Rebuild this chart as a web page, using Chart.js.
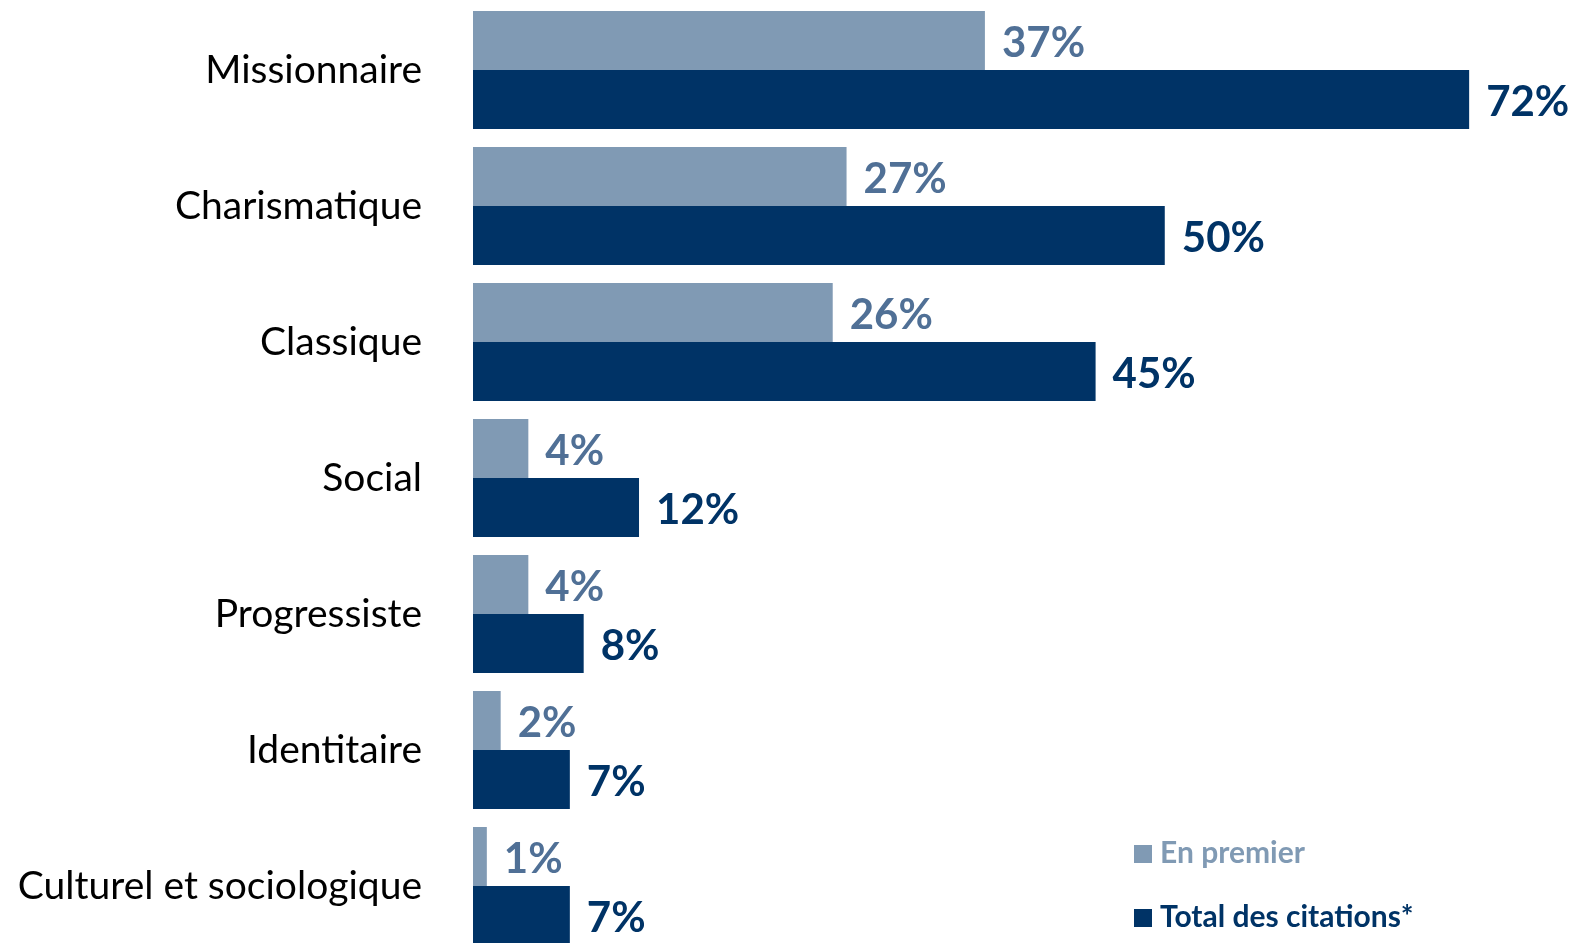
<!DOCTYPE html>
<html>
<head>
<meta charset="utf-8">
<script src="https://cdn.jsdelivr.net/npm/chart.js@4"></script>
<style>
  html, body { margin: 0; padding: 0; background: #fff; overflow: hidden; }
  #wrap { width: 1575px; height: 956px; position: relative; }
</style>
</head>
<body>
<div id="wrap"><canvas id="chart"></canvas></div>
<script>
const categories = ['Missionnaire', 'Charismatique', 'Classique', 'Social', 'Progressiste', 'Identitaire', 'Culturel et sociologique'];
const premier = [37, 27, 26, 4, 4, 2, 1];
const total = [72, 50, 45, 12, 8, 7, 7];
const seriesNames = ['En premier', 'Total des citations*'];

const lightBar = 'rgb(128,154,180)';
const darkBar = 'rgb(0,51,102)';
const lightText = 'rgb(80,112,150)';

// value labels next to each bar, plus the little legend bottom right
const labelPlugin = {
    id: 'valueLabels',
    afterDatasetsDraw(chart) {
        const ctx = chart.ctx;
        ctx.save();
        ctx.font = 'bold 42px Lato';
        ctx.textBaseline = 'middle';
        ctx.textAlign = 'left';
        chart.data.datasets.forEach((ds, i) => {
            const meta = chart.getDatasetMeta(i);
            ctx.fillStyle = i === 0 ? lightText : darkBar;
            meta.data.forEach((bar, j) => {
                ctx.fillText(ds.data[j] + '%', bar.x + 17, bar.y + 3);
            });
        });

        // legend
        const lx = 1134;
        const rows = [863, 927];
        ctx.font = 'bold 30px Lato';
        ctx.textBaseline = 'alphabetic';
        chart.data.datasets.forEach((ds, i) => {
            ctx.fillStyle = ds.backgroundColor;
            ctx.fillRect(lx, rows[i] - 18, 18, 18);
            ctx.fillText(ds.label, lx + 26, rows[i]);
        });
        ctx.restore();
    }
};

const config = {
    type: 'bar',
    data: {
        labels: categories,
        datasets: [{
            label: seriesNames[0],
            backgroundColor: lightBar,
            data: premier,
        }, {
            label: seriesNames[1],
            backgroundColor: darkBar,
            data: total,
        }]
    },
    options: {
        indexAxis: 'y',
        responsive: true,
        maintainAspectRatio: false,
        animation: false,
        layout: { padding: { top: 2, bottom: 2, left: 0, right: 9 } },
        datasets: {
            bar: { barPercentage: 1, categoryPercentage: 0.868 }
        },
        plugins: {
            legend: { display: false },
            tooltip: { enabled: false }
        },
        scales: {
            x: {
                display: false,
                min: 0,
                max: 79
            },
            y: {
                grid: { display: false, drawTicks: false },
                border: { display: false },
                ticks: {
                    color: '#000',
                    font: { family: 'Lato', size: 39 },
                    padding: 51
                },
                afterFit(scale) {
                    scale.width = 473;
                    // tick padding would otherwise push the plot down
                    scale.paddingTop = 0;
                    scale.paddingBottom = 0;
                }
            }
        }
    },
    plugins: [labelPlugin]
};

new Chart(document.getElementById('chart'), config);
</script>
</body>
</html>
